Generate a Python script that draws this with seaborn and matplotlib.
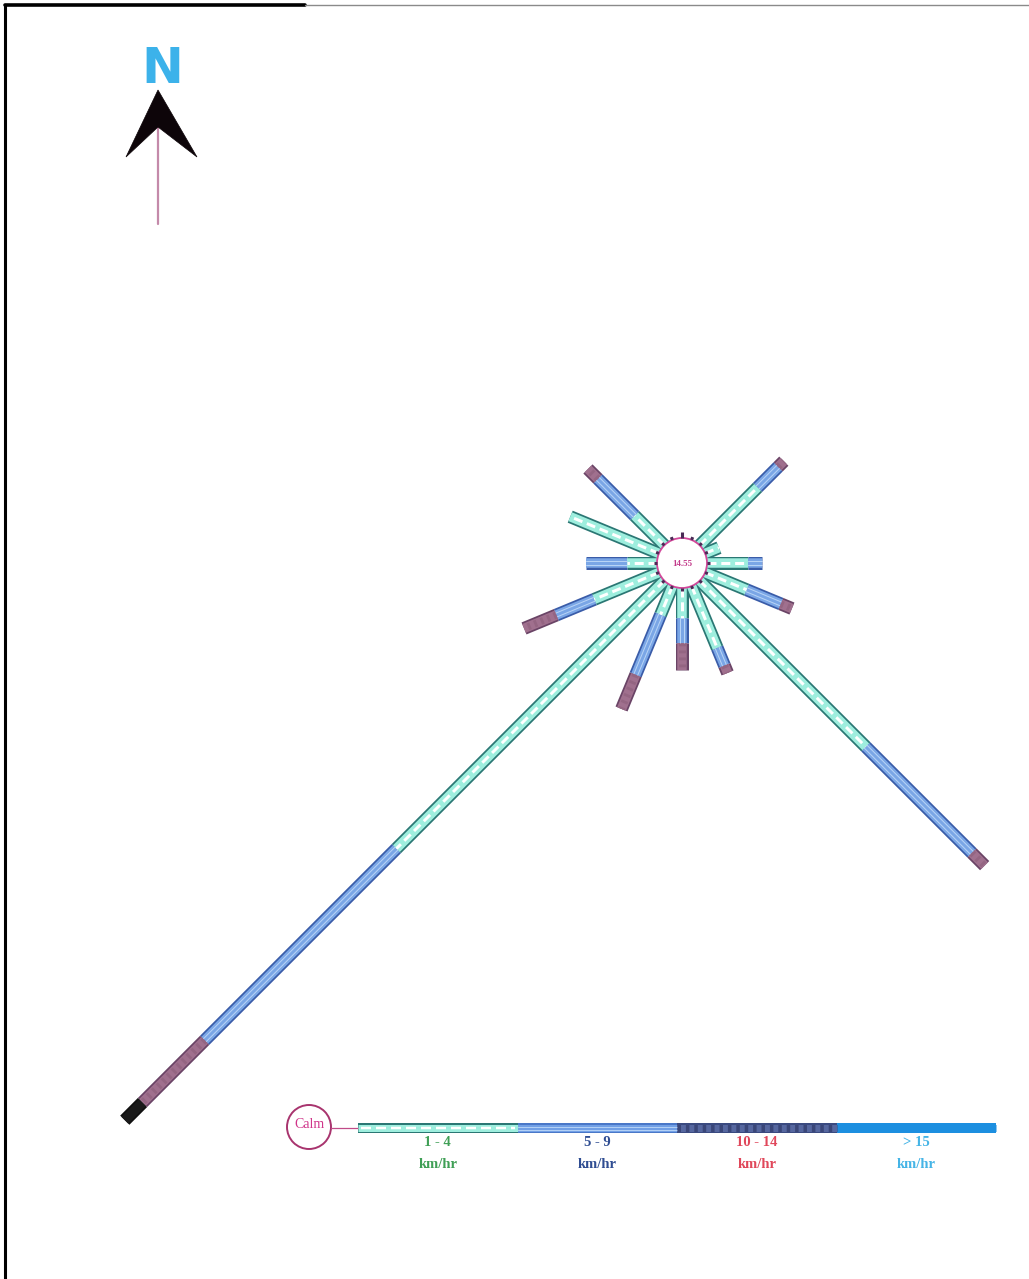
import numpy as np
import pandas as pd
import matplotlib.pyplot as plt
import seaborn as sns
from matplotlib.patches import Circle, Polygon

# Wind rose data (segment lengths per speed class, rose units; 1 unit = 10 px)
directions = ['N', 'NNE', 'NE', 'ENE', 'E', 'ESE', 'SE', 'SSE',
              'S', 'SSW', 'SW', 'WSW', 'W', 'WNW', 'NW', 'NNW']
speed_1_4 = [0.0, 0.0, 8.2, 1.5, 4.1, 4.5, 23.5, 6.7, 3.0, 3.1, 37.9, 7.0, 3.0, 9.6, 4.2, 0.0]
speed_5_9 = [0.0, 0.0, 2.9, 0.0, 1.4, 3.7, 15.0, 1.9, 2.5, 6.5, 27.1, 4.1, 4.1, 0.0, 5.2, 0.0]
speed_10_14 = [0.0, 0.0, 0.8, 0.0, 0.0, 1.2, 1.8, 0.8, 2.7, 3.7, 8.8, 3.5, 0.0, 0.0, 1.4, 0.0]
speed_15_up = [0.0, 0.0, 0.0, 0.0, 0.0, 0.0, 0.0, 0.0, 0.0, 0.0, 2.5, 0.0, 0.0, 0.0, 0.0, 0.0]
calm_value = '14.55'

speed_classes = ['1 - 4', '5 - 9', '10 - 14', '> 15']
class_label_colors = ['#3f9f55', '#2f4d92', '#e0475a', '#45b4e6']

# rose colours (outline, fill)
rose_outline = {'1 - 4': '#2b7774', '5 - 9': '#3a5ca8', '10 - 14': '#6a4466', '> 15': '#101010'}
rose_fill = {'1 - 4': '#9eeede', '5 - 9': '#7aa6e6', '10 - 14': '#a0708e', '> 15': '#1a1a1a'}
# legend colours
legend_fill = ['#9eeede', '#72a0e6', '#56679f', '#1d8fe0']
legend_outline = ['#2b7774', '#4a78c8', '#3a4a80', '#1d8fe0']

sns.set_theme(style='white')
plt.rcParams['font.family'] = ['Liberation Serif', 'DejaVu Serif']

fig = plt.figure(figsize=(10.29, 12.79), dpi=100)
ax = fig.add_axes([0, 0, 1, 1])
ax.set_xlim(0, 1029)
ax.set_ylim(1279, 0)
ax.axis('off')

PX = 0.72  # points per pixel
CX, CY = 682, 563  # rose centre
R0 = 25
SCALE = 10

# Build segment table
rows = []
seg = 0
for i, d in enumerate(directions):
    theta = np.deg2rad(i * 22.5)
    ux, uy = np.sin(theta), -np.cos(theta)
    r = R0
    for cls, vals in zip(speed_classes, [speed_1_4, speed_5_9, speed_10_14, speed_15_up]):
        v = vals[i]
        if v <= 0:
            continue
        r1 = r + v * SCALE
        rows.append({'seg': seg, 'speed': cls, 'dir': d, 'x': CX + ux * r, 'y': CY + uy * r})
        rows.append({'seg': seg, 'speed': cls, 'dir': d, 'x': CX + ux * r1, 'y': CY + uy * r1})
        seg += 1
        r = r1
seg_df = pd.DataFrame(rows)

# outline layer, then fill layer
sns.lineplot(ax=ax, data=seg_df, x='x', y='y', hue='speed', units='seg',
             estimator=None, sort=False, palette=rose_outline, linewidth=13 * PX,
             solid_capstyle='butt', legend=False, zorder=2)
sns.lineplot(ax=ax, data=seg_df, x='x', y='y', hue='speed', units='seg',
             estimator=None, sort=False, palette=rose_fill, linewidth=9.5 * PX,
             solid_capstyle='butt', legend=False, zorder=3)

# patterns inside the segments
for s, g in seg_df.groupby('seg'):
    cls = g['speed'].iloc[0]
    xs, ys = g['x'].values, g['y'].values
    if cls == '1 - 4':
        ax.plot(xs, ys, color='white', lw=3 * PX, dashes=(3, 1.6),
                solid_capstyle='butt', zorder=4)
    elif cls == '5 - 9':
        dx, dy = xs[1] - xs[0], ys[1] - ys[0]
        n = np.hypot(dx, dy)
        nx, ny = -dy / n, dx / n
        for off in (-2, 2):
            ax.plot(xs + nx * off, ys + ny * off, color='#b8d4f6', lw=1 * PX, zorder=4)
    elif cls == '10 - 14':
        ax.plot(xs, ys, color='#946582', lw=7 * PX, dashes=(0.4, 0.6), zorder=4)

# centre circle with calm value
ax.add_patch(Circle((CX, CY), R0, facecolor='white', edgecolor='#d2479a', lw=1.3, zorder=6))
for i in range(16):
    theta = np.deg2rad(i * 22.5)
    ux, uy = np.sin(theta), -np.cos(theta)
    ln = 6 if i == 0 else 3
    ax.plot([CX + ux * R0, CX + ux * (R0 + ln)], [CY + uy * R0, CY + uy * (R0 + ln)],
            color='#4a2a55', lw=2.2, solid_capstyle='butt', zorder=7)
ax.text(CX, CY + 1, calm_value, ha='center', va='center', fontsize=6.5,
        color='#c23a8a', fontweight='bold', zorder=8)

# legend bar
LX0, LX1, LY = 358, 996, 1128
seg_len = (LX1 - LX0) / len(speed_classes)
for k, cls in enumerate(speed_classes):
    x0 = LX0 + k * seg_len
    x1 = x0 + seg_len
    ax.plot([x0, x1], [LY, LY], color=legend_outline[k], lw=10 * PX,
            solid_capstyle='butt', zorder=2)
    ax.plot([x0, x1], [LY, LY], color=legend_fill[k], lw=7 * PX,
            solid_capstyle='butt', zorder=3)
    if k == 0:
        ax.plot([x0 + 3, x1 - 3], [LY, LY], color='white', lw=2.5 * PX,
                dashes=(4, 2), zorder=4)
    elif k == 1:
        ax.plot([x0, x1], [LY - 1.5, LY - 1.5], color='#b5d2f6', lw=0.7, zorder=4)
        ax.plot([x0, x1], [LY + 1.5, LY + 1.5], color='#b5d2f6', lw=0.7, zorder=4)
    elif k == 2:
        ax.plot([x0, x1], [LY, LY], color='#3a4678', lw=7 * PX, dashes=(0.5, 0.7), zorder=4)
    xc = (x0 + x1) / 2
    ax.text(xc, LY + 15, cls, ha='center', va='center', fontsize=10.5,
            color=class_label_colors[k], fontweight='bold')
    ax.text(xc, LY + 36, 'km/hr', ha='center', va='center', fontsize=10.5,
            color=class_label_colors[k], fontweight='bold')

# calm marker
ax.add_patch(Circle((309, LY - 1), 22, facecolor='none', edgecolor='#a8346e', lw=1.4))
ax.plot([331, LX0], [LY, LY], color='#c04a88', lw=0.9)
ax.text(309, LY - 3, 'Calm', ha='center', va='center', fontsize=10,
        color='#d0358a')

# north arrow
ax.plot([158, 158], [126, 224], color='#c48aaa', lw=1.6, zorder=1)
ax.add_patch(Polygon([(158, 90), (197, 157), (158, 127), (126, 157)], closed=True,
                     facecolor='#0d0509', edgecolor='#0d0509', lw=0.5, zorder=2))
ax.text(162, 69, 'N', ha='center', va='center', fontsize=36, color='#3cb2ea',
        fontweight='bold', family='DejaVu Sans')

# frame
ax.plot([5, 5], [5, 1279], color='black', lw=2.2)
ax.plot([5, 305], [5, 5], color='black', lw=2.6)
ax.plot([305, 1029], [5, 5], color='#8a8a8a', lw=1.0)

fig.savefig('out.png', dpi=100)
